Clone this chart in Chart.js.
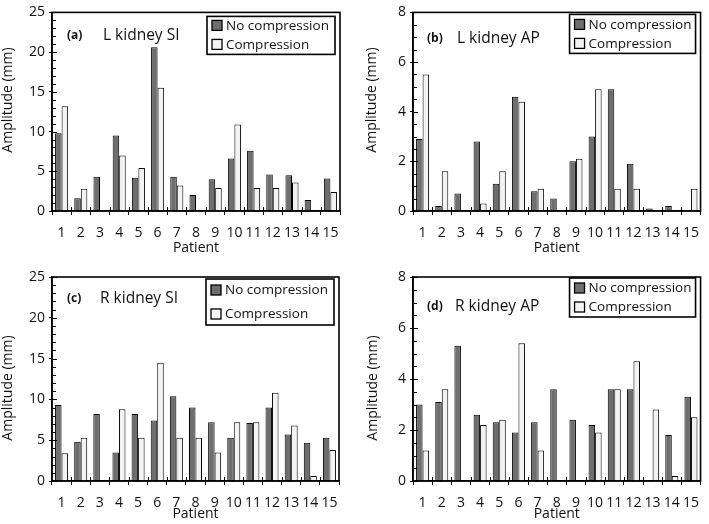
<!DOCTYPE html>
<html><head><meta charset="utf-8">
<script src="https://cdn.jsdelivr.net/npm/chart.js@4/dist/chart.umd.min.js"></script>
<style>
html,body{margin:0;padding:0;background:#fff;}
#wrap{position:relative;width:709px;height:524px;overflow:hidden;background:#fff;}
.p{position:absolute;}
canvas{display:block;}
</style></head><body>
<div id="wrap">
<div class="p" style="left:0;top:0"><canvas id="ca" width="355" height="262"></canvas></div>
<div class="p" style="left:355px;top:0"><canvas id="cb" width="354" height="262"></canvas></div>
<div class="p" style="left:0;top:262px"><canvas id="cc" width="355" height="262"></canvas></div>
<div class="p" style="left:355px;top:262px"><canvas id="cd" width="354" height="262"></canvas></div>
</div>
<script>
// ---------- data ----------
const patients = ['1','2','3','4','5','6','7','8','9','10','11','12','13','14','15'];
const seriesNames = ['No compression', 'Compression'];
const xTitle = 'Patient';
const yTitle = 'Amplitude (mm)';
const panelLetters = ['(a)', '(b)', '(c)', '(d)'];
const panelTitles = ['L kidney SI', 'L kidney AP', 'R kidney SI', 'R kidney AP'];

const lSiNo   = [9.8, 1.6, 4.3, 9.5, 4.2, 20.6, 4.3, 2.0, 4.0, 6.6, 7.6, 4.6, 4.5, 1.4, 4.1];
const lSiComp = [13.2, 2.8, 0, 7.0, 5.4, 15.5, 3.2, 0.15, 2.9, 10.9, 2.9, 2.9, 3.6, 0, 2.4];
const lApNo   = [2.9, 0.2, 0.7, 2.8, 1.1, 4.6, 0.8, 0.5, 2.0, 3.0, 4.9, 1.9, 0.1, 0.2, 0];
const lApComp = [5.5, 1.6, 0, 0.3, 1.6, 4.4, 0.9, 0, 2.1, 4.9, 0.9, 0.9, 0, 0, 0.9];
const rSiNo   = [9.3, 4.8, 8.2, 3.5, 8.2, 7.4, 10.4, 9.0, 7.2, 5.3, 7.1, 9.0, 5.7, 4.7, 5.3];
const rSiComp = [3.4, 5.3, 0, 8.8, 5.3, 14.5, 5.3, 5.3, 3.5, 7.2, 7.2, 10.8, 6.8, 0.6, 3.8];
const rApNo   = [3.0, 3.1, 5.3, 2.6, 2.3, 1.9, 2.3, 3.6, 2.4, 2.2, 3.6, 3.6, 0, 1.8, 3.3];
const rApComp = [1.2, 3.6, 0, 2.2, 2.4, 5.4, 1.2, 0, 0, 1.9, 3.6, 4.7, 2.8, 0.2, 2.5];

const siAxis = {max: 25, major: 5, minor: 1};
const apAxis = {max: 8, major: 2, minor: 0.5};

// ---------- styles / layout ----------
const FONT = "'Open Sans', 'DejaVu Sans', sans-serif";
const darkFill = '#6e6e6e';
const lightFill = '#f3f3f3';

const panels = [
  {id:'ca', w:355, h:262, left:52, top:5,  right:340, bottom:211, axis:siAxis, no:lSiNo, comp:lSiComp, xtb:6,
   yT:{x:8, y:100}, leg:{inset:4, w:128, h:38, rows:[13,32]}, ttl:{lx:15, tx:51, y:23}},
  {id:'cb', w:354, h:262, left:58, top:6,  right:353, bottom:211, axis:apAxis, no:lApNo, comp:lApComp, xtb:6,
   yT:{x:17, y:100}, leg:{inset:2, w:126, h:39, rows:[12,31]}, ttl:{lx:14, tx:44, y:26}},
  {id:'cc', w:355, h:262, left:52, top:15, right:339, bottom:219, axis:siAxis, no:rSiNo, comp:rSiComp, xtb:2,
   yT:{x:8, y:126}, leg:{inset:2, w:128, h:46, rows:[13,37]}, ttl:{lx:15, tx:48, y:22}},
  {id:'cd', w:354, h:262, left:58, top:15, right:353, bottom:219, axis:apAxis, no:rApNo, comp:rApComp, xtb:2,
   yT:{x:18, y:126}, leg:{inset:1, w:126, h:39, rows:[11,30]}, ttl:{lx:14, tx:42, y:30}}
];

const decor = {
  id: 'decor',
  afterDatasetsDraw(chart, args, o) {
    const ctx = chart.ctx, a = chart.chartArea, ys = chart.scales.y, xs = chart.scales.x;
    ctx.save();
    ctx.strokeStyle = '#000';
    ctx.lineWidth = 1;
    ctx.beginPath();
    // inner y ticks (major + minor)
    const nMin = Math.round(ys.max / o.axis.minor);
    const perMajor = Math.round(o.axis.major / o.axis.minor);
    for (let k = 0; k <= nMin; k++) {
      const py = Math.round(ys.getPixelForValue(k * o.axis.minor)) + 0.5;
      const len = (k % perMajor === 0) ? 5 : 4;
      ctx.moveTo(a.left, py); ctx.lineTo(a.left + len, py);
    }
    // inner x ticks at category boundaries
    const n = xs.ticks.length;
    for (let i = 1; i < n; i++) {
      const px = Math.round((xs.getPixelForValue(i - 1) + xs.getPixelForValue(i)) / 2) + 0.5;
      ctx.moveTo(px, a.bottom); ctx.lineTo(px, a.bottom - 4);
    }
    ctx.stroke();
    // frame
    ctx.lineWidth = 1.6;
    ctx.strokeRect(a.left, a.top, a.right - a.left, a.bottom - a.top);

    // legend box
    const L = o.leg;
    const bx = a.right - 5 - L.w, by = a.top + L.inset;
    ctx.lineWidth = 1.6;
    ctx.strokeRect(bx, by, L.w, L.h);
    ctx.font = '13.5px ' + FONT;
    ctx.textBaseline = 'middle';
    ctx.textAlign = 'left';
    chart.data.datasets.forEach((ds, i) => {
      const ry = a.top + L.rows[i];
      ctx.fillStyle = ds.backgroundColor;
      ctx.fillRect(bx + 5, ry - 5, 10, 10);
      ctx.lineWidth = 1.3;
      ctx.strokeRect(bx + 5, ry - 5, 10, 10);
      ctx.fillStyle = '#111';
      ctx.fillText(ds.label, bx + 19, ry + 0.5);
    });

    // panel letter and title
    ctx.fillStyle = '#111';
    ctx.font = 'bold 12px ' + FONT;
    ctx.fillText(o.letter, a.left + o.ttl.lx, a.top + o.ttl.y);
    ctx.font = '15.5px ' + FONT;
    ctx.fillText(o.title, a.left + o.ttl.tx, a.top + o.ttl.y);

    // y axis title
    ctx.save();
    ctx.translate(o.yT.x, o.yT.y);
    ctx.rotate(-Math.PI / 2);
    ctx.textAlign = 'center';
    ctx.font = '14px ' + FONT;
    ctx.fillText(yTitle, 0, 0);
    ctx.restore();
    ctx.restore();
  }
};

panels.forEach((p, idx) => {
  new Chart(document.getElementById(p.id), {
    type: 'bar',
    data: {
      labels: patients,
      datasets: [
        {label: seriesNames[0], data: p.no, backgroundColor: darkFill, borderColor: '#000', borderWidth: 1},
        {label: seriesNames[1], data: p.comp, backgroundColor: lightFill, borderColor: '#000', borderWidth: 1}
      ]
    },
    options: {
      responsive: false,
      animation: false,
      devicePixelRatio: 1,
      datasets: {bar: {categoryPercentage: 0.68, barPercentage: 1}},
      layout: {padding: {top: p.top, right: p.w - p.right, left: 0, bottom: 0}},
      plugins: {
        legend: {display: false},
        tooltip: {enabled: false},
        decor: {axis: p.axis, leg: p.leg, ttl: p.ttl, yT: p.yT, letter: panelLetters[idx], title: panelTitles[idx]}
      },
      scales: {
        x: {
          offset: true,
          grid: {display: true, drawOnChartArea: false, drawTicks: true, tickLength: 4, color: '#000', lineWidth: 1, offset: true},
          border: {display: true, color: '#000', width: 1.6},
          ticks: {color: '#111', font: {family: FONT, size: 14}, padding: 10, maxRotation: 0, autoSkip: false},
          title: {display: true, text: xTitle, color: '#111', font: {family: FONT, size: 14}, padding: {top: 0, bottom: p.xtb}},
          afterFit(s) { s.height = p.h - p.bottom; }
        },
        y: {
          min: 0, max: p.axis.max,
          grid: {display: true, drawOnChartArea: false, drawTicks: true, tickLength: 3, color: '#000', lineWidth: 1},
          border: {display: true, color: '#000', width: 1.6},
          ticks: {stepSize: p.axis.major, color: '#111', font: {family: FONT, size: 14}, padding: 4},
          afterFit(s) { s.width = p.left; }
        }
      }
    },
    plugins: [decor]
  });
});
</script>
</body></html>
